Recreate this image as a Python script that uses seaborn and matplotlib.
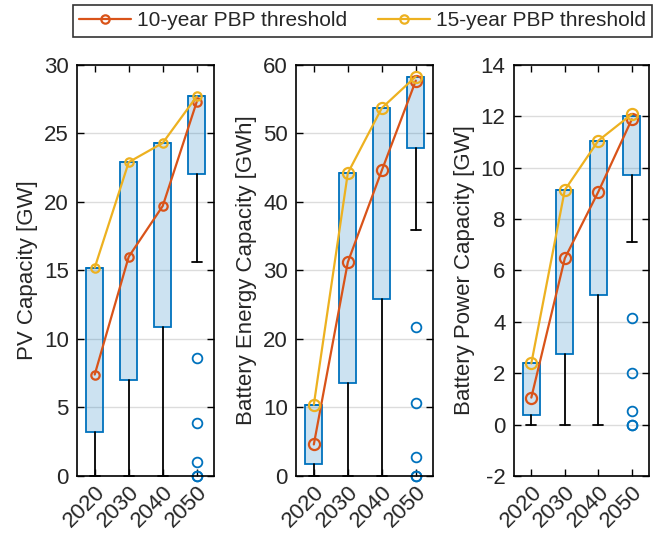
import matplotlib
matplotlib.use("Agg")
import matplotlib.pyplot as plt
import pandas as pd
import seaborn as sns

# ----- Data -----
years = ["2020", "2030", "2040", "2050"]

pv_q1 = [3.2, 7.0, 10.9, 22.0]
pv_q3 = [15.2, 22.9, 24.3, 27.7]
pv_low = [0.0, 0.0, 0.0, 15.6]
pv_out = [[], [], [], [8.6, 3.9, 1.0, 0.0, 0.0]]
pv_10 = [7.4, 16.0, 19.7, 27.3]
pv_15 = [15.2, 22.9, 24.3, 27.7]

be_q1 = [1.7, 13.6, 25.8, 47.8]
be_q3 = [10.4, 44.2, 53.7, 58.2]
be_low = [0.0, 0.0, 0.0, 35.9]
be_out = [[], [], [], [21.8, 10.7, 2.8, 0.0, 0.0]]
be_10 = [4.6, 31.2, 44.6, 57.7]
be_15 = [10.4, 44.2, 53.7, 58.3]

bp_q1 = [0.36, 2.74, 5.06, 9.71]
bp_q3 = [2.38, 9.13, 11.05, 12.01]
bp_low = [0.0, 0.0, 0.0, 7.12]
bp_out = [[], [], [], [4.16, 2.01, 0.53, 0.0, 0.0]]
bp_10 = [1.05, 6.47, 9.06, 11.88]
bp_15 = [2.38, 9.13, 11.05, 12.08]

BLUE = "#0072BD"
RED = "#D95319"
YELLOW = "#EDB120"

sns.set_style("ticks")
plt.rcParams["font.family"] = ["Liberation Sans", "DejaVu Sans"]
plt.rcParams["font.size"] = 16
plt.rcParams["axes.unicode_minus"] = False


def draw_panel(ax, q1, q3, low, outliers, y10, y15, ylabel, ylim, step):
    stats = [
        dict(q1=a, med=b, q3=b, whislo=c, whishi=b, fliers=f)
        for a, b, c, f in zip(q1, q3, low, outliers)
    ]
    bp = ax.bxp(
        stats,
        positions=range(len(years)),
        widths=0.5,
        capwidths=0.3,
        patch_artist=True,
        boxprops=dict(facecolor=(0.0, 0.447, 0.741, 0.2), edgecolor=BLUE, linewidth=1.3),
        medianprops=dict(color=BLUE, linewidth=1.3),
        whiskerprops=dict(color="black", linewidth=1.3),
        capprops=dict(color="black", linewidth=1.3),
        flierprops=dict(marker="o", markerfacecolor="none", markeredgecolor=BLUE,
                        markersize=7, markeredgewidth=1.3),
        zorder=2,
    )
    # no upper whisker: hide the upper caps
    for cap in bp["caps"][1::2]:
        cap.set_visible(False)
    for cap in bp["caps"][0::2]:
        cap.set_clip_on(False)
        cap.set_zorder(3)
    for fl in bp["fliers"]:
        fl.set_clip_on(False)

    df = pd.DataFrame({"year": years, "10-year PBP threshold": y10,
                       "15-year PBP threshold": y15})
    for col, color in [("10-year PBP threshold", RED), ("15-year PBP threshold", YELLOW)]:
        sns.lineplot(data=df, x="year", y=col, ax=ax, color=color, lw=1.6,
                     marker="o", markersize=8, markerfacecolor="none",
                     markeredgecolor=color, markeredgewidth=1.6, label=col,
                     legend=False, zorder=4, sort=False)

    ax.set_xlim(-0.52, 3.5)
    ax.set_ylim(*ylim)
    ax.set_yticks(range(ylim[0], ylim[1] + 1, step))
    ax.set_xticks(range(len(years)))
    ax.set_xticklabels(years, rotation=45, ha="right", rotation_mode="anchor")
    ax.set_xlabel("")
    ax.set_ylabel(ylabel, labelpad=4)
    ax.yaxis.grid(True, color="#dcdcdc", linewidth=1.0, zorder=0)
    ax.set_axisbelow(True)
    ax.tick_params(direction="in", top=True, right=True, length=5, width=1.0,
                   labelsize=16, pad=6, color="black")
    ax.tick_params(axis="x", pad=4)
    for s in ax.spines.values():
        s.set_color("black")
        s.set_linewidth(1.2)


fig = plt.figure(figsize=(6.7, 5.36), dpi=100)
ax1 = fig.add_axes([0.115, 0.112, 0.204, 0.767])
ax2 = fig.add_axes([0.442, 0.112, 0.204, 0.767])
ax3 = fig.add_axes([0.767, 0.112, 0.201, 0.767])

draw_panel(ax1, pv_q1, pv_q3, pv_low, pv_out, pv_10, pv_15, "PV Capacity [GW]", (0, 30), 5)
draw_panel(ax2, be_q1, be_q3, be_low, be_out, be_10, be_15, "Battery Energy Capacity [GWh]", (0, 60), 10)
draw_panel(ax3, bp_q1, bp_q3, bp_low, bp_out, bp_10, bp_15, "Battery Power Capacity [GW]", (-2, 14), 2)

handles, labels = ax1.get_legend_handles_labels()
for h in handles:
    h.set_markersize(6)
leg = fig.legend(handles, labels, loc="center", bbox_to_anchor=(0.541, 0.961), ncol=2,
                 fontsize=15, frameon=True, fancybox=False, edgecolor="black",
                 handlelength=2.5, columnspacing=1.45, borderpad=0.3,
                 handletextpad=0.3, borderaxespad=0)
leg.get_frame().set_linewidth(1.2)

fig.savefig("out.png", dpi=100)
